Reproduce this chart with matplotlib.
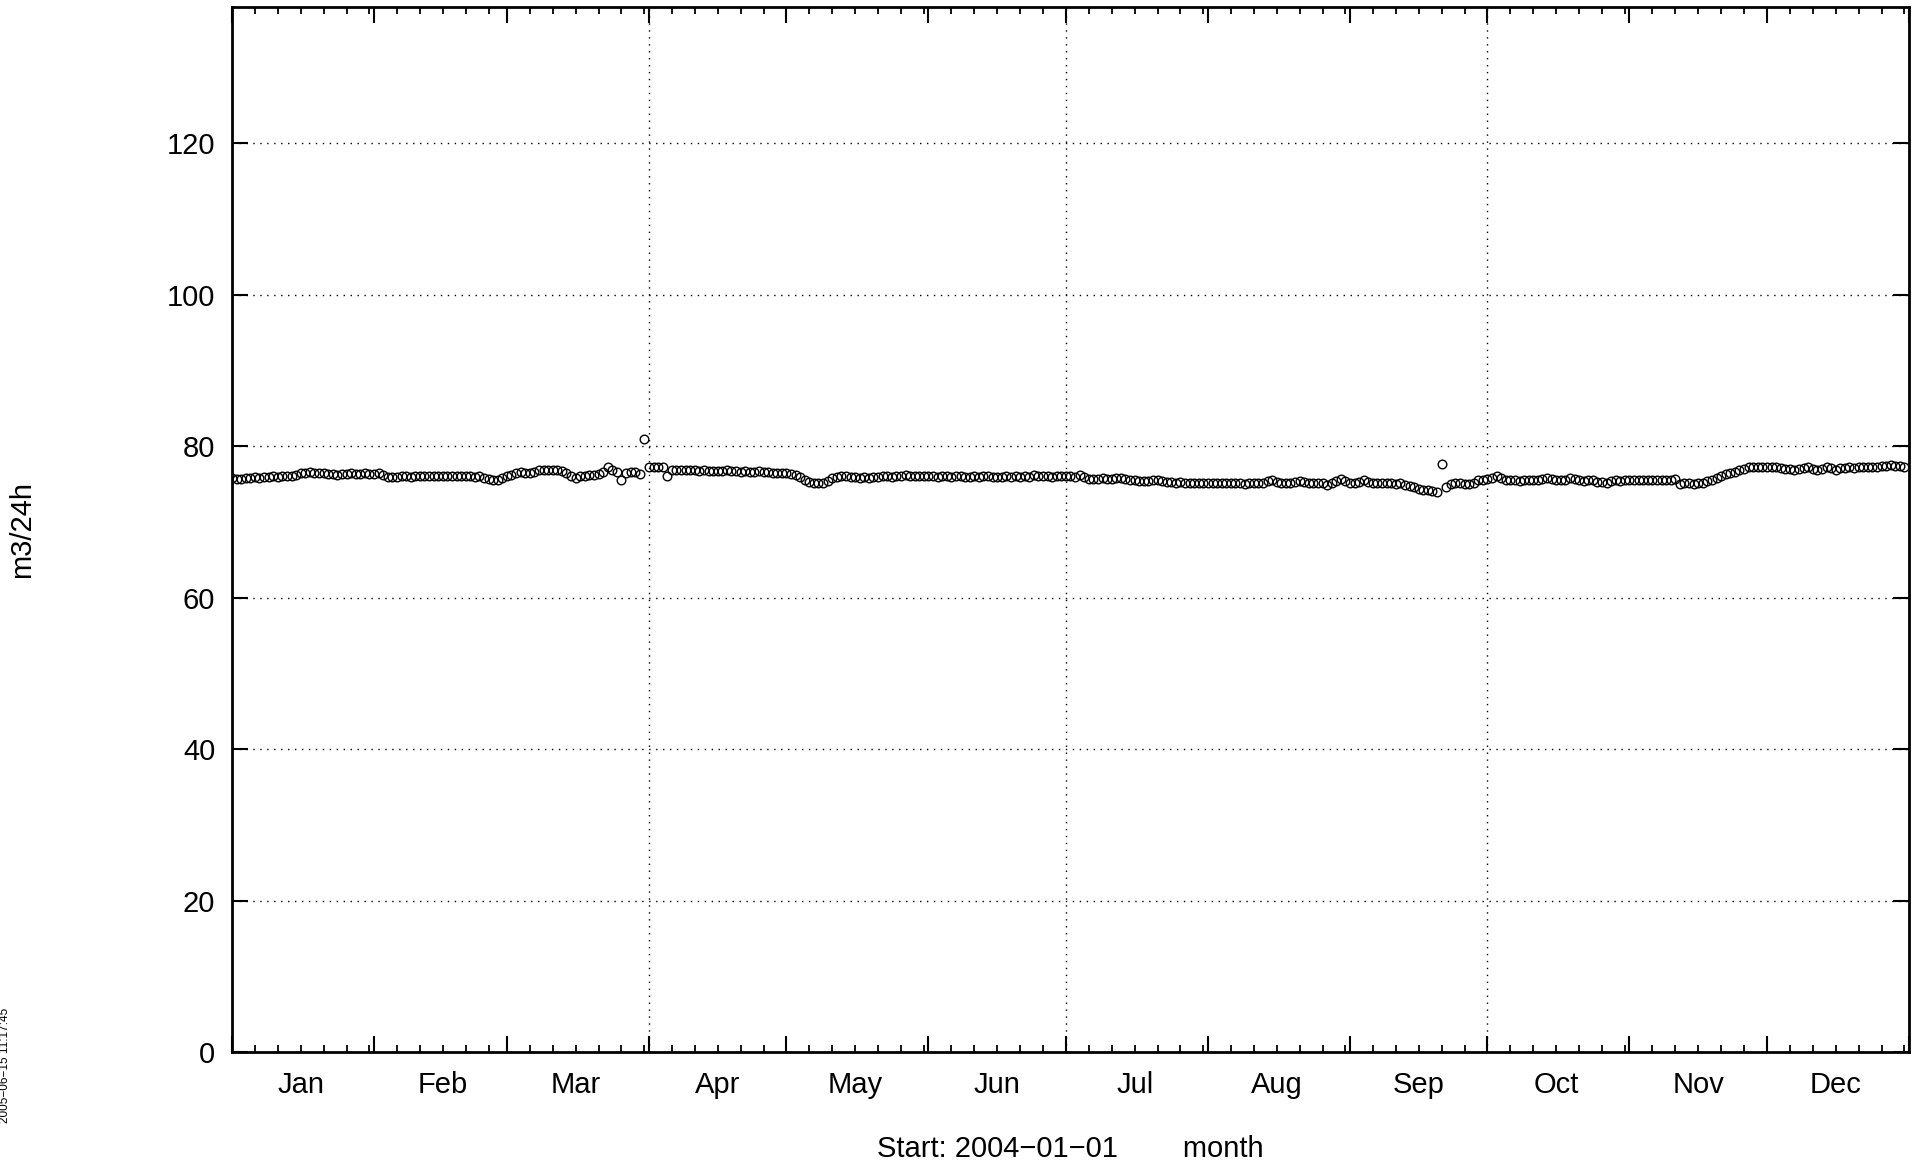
import matplotlib
matplotlib.use("Agg")
import matplotlib.pyplot as plt
import matplotlib.dates as mdates
import numpy as np

plt.rcParams['font.family'] = ['Liberation Sans', 'DejaVu Sans']

# daily flow values (m3/24h), 2004, one list per month
jan = [75.8, 75.7, 75.7, 75.8, 75.8, 75.9, 75.8, 75.9, 75.9, 76.0, 75.9,
       76.0, 76.1, 76.1, 76.2, 76.5, 76.4, 76.6, 76.5, 76.4, 76.5,
       76.3, 76.3, 76.2, 76.3, 76.3, 76.4, 76.3, 76.3, 76.4, 76.3]
feb = [76.3, 76.4, 76.2, 75.9, 75.9, 75.9, 76.0, 76.0, 75.9, 76.0, 76.0,
       76.1, 76.0, 76.0, 76.1, 76.0, 76.0, 76.0, 76.1, 76.0, 76.1, 76.0,
       75.9, 76.0, 75.8, 75.7, 75.5, 75.6, 75.8]
mar = [76.0, 76.2, 76.4, 76.6, 76.5, 76.4, 76.6, 76.8, 76.9, 76.9, 76.8,
       76.9, 76.7, 76.5, 76.0, 75.8, 76.1, 76.1, 76.2, 76.2, 76.3, 76.6,
       77.3, 76.8, 76.6, 75.5, 76.5, 76.6, 76.6, 76.3, 80.9]
apr = [77.3, 77.3, 77.3, 77.2, 76.1, 76.8, 76.9, 76.9, 76.8, 76.8, 76.8,
       76.7, 76.8, 76.7, 76.7, 76.7, 76.7, 76.8, 76.7, 76.7, 76.6, 76.7,
       76.6, 76.6, 76.7, 76.6, 76.6, 76.5, 76.5, 76.4]
may = [76.4, 76.3, 76.2, 75.9, 75.5, 75.3, 75.2, 75.1, 75.2, 75.4, 75.8,
       75.9, 76.0, 76.0, 75.9, 75.9, 75.8, 75.9, 75.8, 75.9, 75.9, 76.0,
       76.0, 75.9, 76.1, 76.1, 76.2, 76.1, 76.1, 76.1, 76.1]
jun = [76.1, 76.0, 75.9, 76.0, 76.0, 75.9, 76.1, 76.0, 75.9, 75.9, 76.0,
       75.9, 76.0, 76.1, 75.9, 75.9, 75.9, 76.0, 75.9, 76.0, 75.9, 76.0,
       75.9, 76.2, 76.1, 76.0, 76.0, 75.9, 76.0, 76.0]
jul = [76.0, 76.0, 75.9, 76.2, 75.9, 75.7, 75.7, 75.7, 75.8, 75.7, 75.7,
       75.8, 75.8, 75.7, 75.6, 75.5, 75.4, 75.4, 75.4, 75.5, 75.6, 75.4,
       75.3, 75.3, 75.2, 75.3, 75.2, 75.2, 75.2, 75.1, 75.2]
aug = [75.2, 75.1, 75.2, 75.1, 75.1, 75.1, 75.2, 75.1, 75.0, 75.1, 75.1,
       75.1, 75.2, 75.4, 75.6, 75.3, 75.2, 75.2, 75.2, 75.3, 75.4, 75.3,
       75.2, 75.1, 75.2, 75.1, 74.9, 75.1, 75.4, 75.7, 75.4]
sep = [75.2, 75.2, 75.3, 75.5, 75.3, 75.1, 75.1, 75.1, 75.2, 75.1, 75.0,
       75.1, 74.9, 74.8, 74.6, 74.3, 74.2, 74.2, 74.1, 74.0, 77.6, 74.6,
       75.0, 75.2, 75.1, 75.0, 75.0, 75.1, 75.5, 75.6]
oct = [75.7, 75.8, 76.0, 75.8, 75.6, 75.5, 75.5, 75.4, 75.5, 75.6, 75.6,
       75.6, 75.7, 75.8, 75.7, 75.6, 75.5, 75.6, 75.8, 75.7, 75.5, 75.4,
       75.5, 75.5, 75.3, 75.3, 75.2, 75.4, 75.5, 75.4, 75.5]
nov = [75.5, 75.5, 75.5, 75.6, 75.5, 75.6, 75.6, 75.6, 75.5, 75.6, 75.7,
       75.0, 75.1, 75.1, 75.0, 75.1, 75.2, 75.4, 75.6, 75.8, 76.1, 76.3,
       76.5, 76.6, 76.8, 77.0, 77.2, 77.3, 77.3, 77.3]
dec = [77.3, 77.3, 77.2, 77.1, 77.0, 77.0, 76.9, 77.0, 77.1, 77.2, 77.0,
       76.9, 77.0, 77.2, 77.1, 76.9, 77.1, 77.1, 77.2, 77.1, 77.2, 77.2,
       77.3, 77.3, 77.2, 77.4, 77.4, 77.5, 77.4, 77.4, 77.3]

month_names = ['Jan', 'Feb', 'Mar', 'Apr', 'May', 'Jun',
               'Jul', 'Aug', 'Sep', 'Oct', 'Nov', 'Dec']
y_ticks = [0, 20, 40, 60, 80, 100, 120]
start_date = '2004-01-01'
timestamp = '2005\u221206\u221215 11:17:45'

values = np.array(jan + feb + mar + apr + may + jun + jul + aug + sep + oct + nov + dec)
days = np.arange(np.datetime64(start_date), np.datetime64(start_date) + len(values),
                 dtype='datetime64[D]')

fig = plt.figure(figsize=(19.23, 11.65), dpi=100)
ax = fig.add_axes([232 / 1923, 1 - 1052 / 1165, (1909 - 232) / 1923, (1052 - 7) / 1165])

x0 = np.datetime64('2004-01-01')
x1 = np.datetime64('2005-01-01')

# grid: horizontal at each y tick, vertical at quarter starts
grid_style = dict(color='black', lw=1.0, linestyle=(0, (1, 4)), zorder=1)
for yv in y_ticks[1:]:
    ax.axhline(yv, **grid_style)
for q in ['2004-04-01', '2004-07-01', '2004-10-01']:
    ax.axvline(np.datetime64(q), **grid_style)

ax.plot(days, values, linestyle='none', marker='o', markersize=6.2,
        markerfacecolor='none', markeredgecolor='black', markeredgewidth=1.0, zorder=3)

ax.set_xlim(x0, x1)
ax.set_ylim(0, 138)

ax.xaxis.set_major_locator(mdates.MonthLocator())
ax.xaxis.set_minor_locator(mdates.DayLocator(bymonthday=[6, 11, 16, 21, 26, 31]))
ax.xaxis.set_major_formatter(plt.NullFormatter())
ax.set_yticks(y_ticks)

ax.tick_params(axis='both', which='major', direction='in', length=11.5, width=1.5,
               top=True, right=True, labelsize=21)
ax.tick_params(axis='x', which='minor', direction='in', length=5, width=1.3, top=True)
ax.tick_params(axis='y', which='major', pad=12)
for s in ax.spines.values():
    s.set_linewidth(2)

# month labels centred in each month
for i, name in enumerate(month_names):
    mid = np.datetime64(f'2004-{i + 1:02d}-16')
    ax.text(mid, -41 / 1045, name, transform=ax.get_xaxis_transform(),
            ha='center', va='baseline', fontsize=21)

fig.text(22 / 1923, 1 - 530 / 1165, 'm3/24h', rotation=90, ha='center', va='center', fontsize=21)
fig.text(1070 / 1923, 1 - 1157 / 1165,
         'Start: 2004\u221201\u221201        month', ha='center', va='baseline', fontsize=21)
fig.text(5 / 1923, 1 - 1065 / 1165, timestamp, rotation=90, ha='center', va='center', fontsize=8.5)

fig.savefig('out.png', dpi=100)
